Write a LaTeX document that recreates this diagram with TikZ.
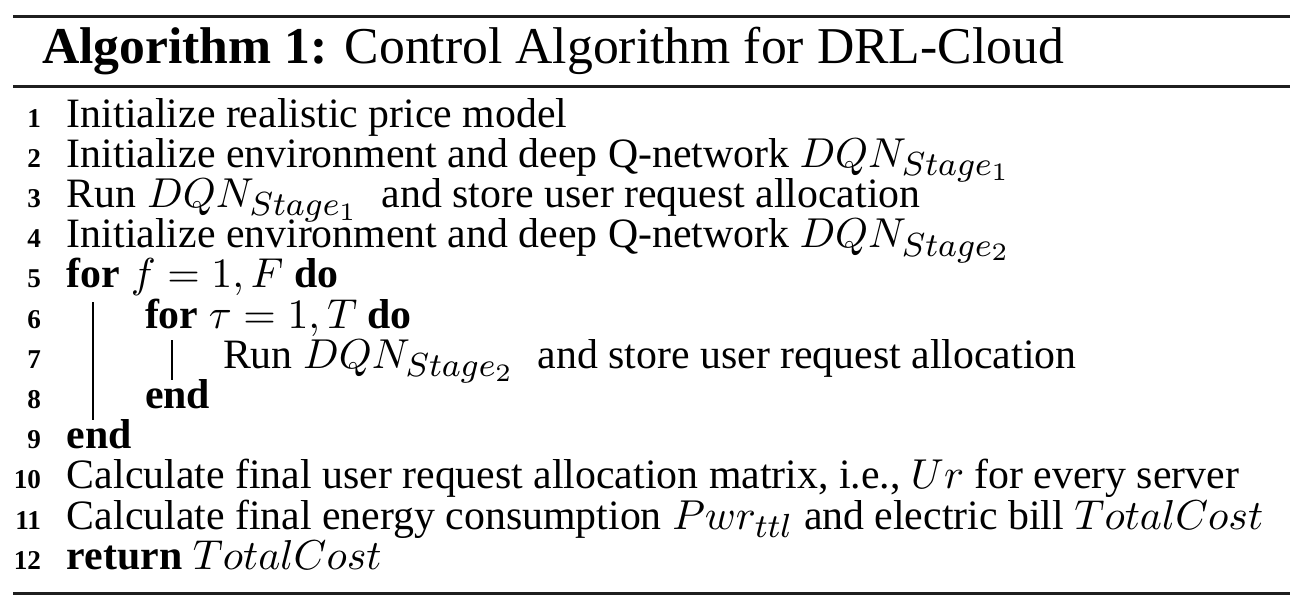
\documentclass[tikz,border=0pt]{standalone}
\usepackage[no-math]{fontspec}
\setmainfont{Liberation Serif}
\DeclareMathSizes{10}{10}{8}{6}
\tikzset{
  txt/.style={anchor=base west, inner sep=0pt, outer sep=0pt, font=\fontsize{10}{12}\selectfont},
  ttl/.style={anchor=base west, inner sep=0pt, outer sep=0pt, font=\fontsize{12.36}{14}\selectfont},
  num/.style={anchor=base east, inner sep=0pt, outer sep=0pt, font=\fontsize{6.5}{7}\selectfont\bfseries},
  hrule/.style={line width=0.77pt, draw=black!88},
  vbar/.style={line width=0.34pt, draw=black}
}
\begin{document}
\begin{tikzpicture}[x=0.2392pt,y=-0.2392pt]
\useasboundingbox (0,0) rectangle (1314,614);
% rules
\coordinate (r1a) at (13,16.3); \coordinate (r1b) at (1290,16.3);
\coordinate (r2a) at (13,86.5);   \coordinate (r2b) at (1290,86.5);
\coordinate (r3a) at (13,593.5); \coordinate (r3b) at (1290,593.5);
\draw[hrule] (r1a) -- (r1b);
\draw[hrule] (r2a) -- (r2b);
\draw[hrule] (r3a) -- (r3b);
% title
\node[ttl] (title) at (42,63) {\textbf{Algorithm 1:} Control Algorithm for DRL-Cloud};
% line numbers
\foreach \i in {1,...,12}{
  \node[num] (n\i) at (41,{127+(\i-1)*40.2}) {\i};
}
% lines
\node[txt] (l1) at (67,127) {Initialize realistic price model};
\node[txt] (l2) at (67,167.2) {Initialize environment and deep Q-network $DQN_{Stage_1}$};
\node[txt] (l3) at (67,207.4) {Run $DQN_{Stage_1}$\hspace{3pt} and store user request allocation};
\node[txt] (l4) at (67,247.6) {Initialize environment and deep Q-network $DQN_{Stage_2}$};
\node[txt] (l5) at (67,287.8) {\textbf{for} $f=1,F$ \textbf{do}};
\node[txt] (l6) at (145,328) {\textbf{for} $\tau=1,T$ \textbf{do}};
\node[txt] (l7) at (223,368.2) {Run $DQN_{Stage_2}$\hspace{3pt} and store user request allocation};
\node[txt] (l8) at (145,408.4) {\textbf{end}};
\node[txt] (l9) at (67,448.6) {\textbf{end}};
\node[txt] (l10) at (67,488.8) {Calculate final user request allocation matrix, i.e., $Ur$ for every server};
\node[txt] (l11) at (67,529) {Calculate final energy consumption $Pwr_{ttl}$ and electric bill $TotalCost$};
\node[txt] (l12) at (67,569.2) {\textbf{return} $TotalCost$};
% block bars
\coordinate (b1a) at (93,302); \coordinate (b1b) at (93,420);
\coordinate (b2a) at (172,340); \coordinate (b2b) at (172,380);
\draw[vbar] (b1a) -- (b1b);
\draw[vbar] (b2a) -- (b2b);
\end{tikzpicture}
\end{document}
